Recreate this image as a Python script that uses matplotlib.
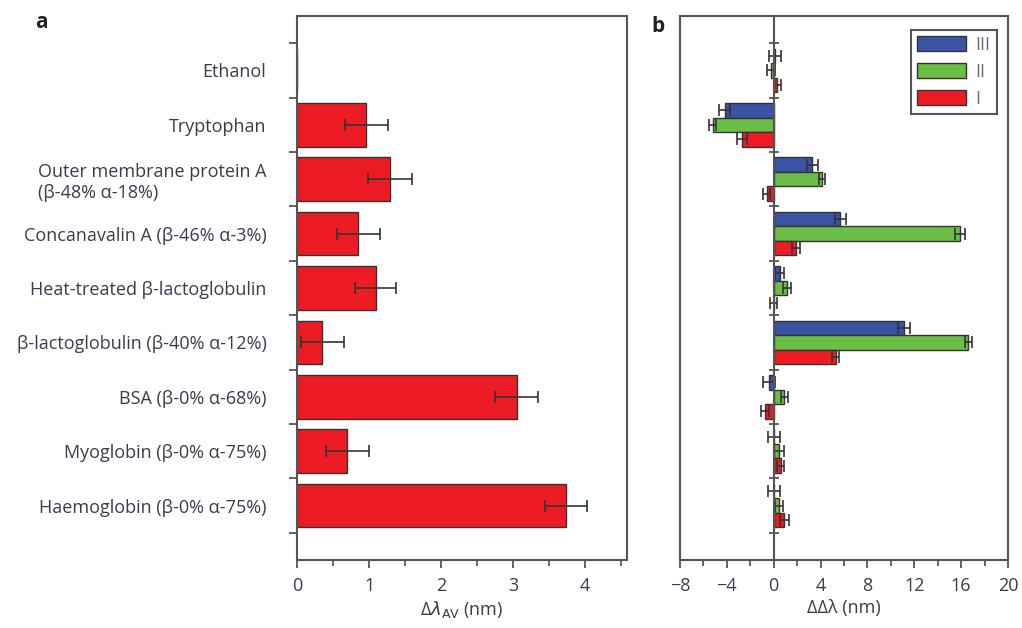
import numpy as np
import matplotlib.pyplot as plt
from matplotlib.ticker import MultipleLocator, FixedLocator

plt.rcParams['font.family'] = ['Open Sans', 'DejaVu Sans']

categories = ['Ethanol', 'Tryptophan', 'Outer membrane protein A\n(β-48% α-18%)',
              'Concanavalin A (β-46% α-3%)', 'Heat-treated β-lactoglobulin',
              'β-lactoglobulin (β-40% α-12%)', 'BSA (β-0% α-68%)',
              'Myoglobin (β-0% α-75%)', 'Haemoglobin (β-0% α-75%)']

# panel a
dl_av = [0.0, 0.96, 1.29, 0.85, 1.09, 0.35, 3.05, 0.70, 3.73]
dl_av_err = [np.nan, 0.3, 0.3, 0.3, 0.29, 0.3, 0.3, 0.3, 0.29]

# panel b
series_names = ['III', 'II', 'I']
ddl_III = [0.1, -4.2, 3.3, 5.7, 0.5, 11.1, -0.4, 0.0, 0.0]
ddl_III_err = [0.5, 0.45, 0.5, 0.5, 0.4, 0.5, 0.5, 0.5, 0.5]
ddl_II = [-0.2, -5.2, 4.1, 15.9, 1.1, 16.6, 0.9, 0.45, 0.45]
ddl_II_err = [0.35, 0.3, 0.25, 0.4, 0.35, 0.3, 0.3, 0.4, 0.3]
ddl_I = [0.3, -2.7, -0.6, 1.9, 0.0, 5.3, -0.75, 0.6, 0.9]
ddl_I_err = [0.3, 0.4, 0.3, 0.35, 0.3, 0.3, 0.35, 0.3, 0.4]

red = '#ed1c24'
green = '#6abd45'
blue = '#3a53a4'
edge = '#333333'
txt = '#3b3b4f'
spine_c = '#555555'
fs = 13

fig = plt.figure(figsize=(10.22, 6.28), dpi=100)
ax1 = fig.add_axes([297/1022, 68/628, 330/1022, 544/628])
ax2 = fig.add_axes([680/1022, 68/628, 328/1022, 544/628])

y = np.arange(len(categories))

# ---- a ----
ax1.barh(y, dl_av, height=0.8, color=red, edgecolor=edge, linewidth=1.0)
ax1.errorbar(dl_av, y, xerr=dl_av_err, fmt='none', ecolor=edge, elinewidth=1.2,
             capsize=4.5, capthick=1.2)
ax1.set_xlim(0, 4.58)
ax1.set_ylim(len(categories), -1)
ax1.xaxis.set_major_locator(MultipleLocator(1))
ax1.xaxis.set_minor_locator(MultipleLocator(0.5))
ax1.set_yticks(y)
ax1.set_yticklabels(categories)
ax1.yaxis.set_minor_locator(FixedLocator(np.arange(-0.5, len(categories), 1)))
ax1.tick_params(axis='y', which='major', length=0, pad=22, labelsize=fs, labelcolor=txt)
ax1.tick_params(axis='y', which='minor', length=6, width=1.3, color=spine_c, direction='out')
ax1.tick_params(axis='x', which='major', length=6, width=1.3, color=spine_c, labelsize=fs,
                labelcolor=txt, pad=6)
ax1.tick_params(axis='x', which='minor', length=4, width=1.3, color=spine_c)
for lab in ax1.get_yticklabels():
    if '\n' in lab.get_text():
        lab.set_multialignment('left')
ax1.set_xlabel(r'Δ$\lambda_{\rm AV}$ (nm)', fontsize=fs, color=txt, labelpad=3)

# ---- b ----
h = 0.8 / 3
vals = [ddl_III, ddl_II, ddl_I]
errs = [ddl_III_err, ddl_II_err, ddl_I_err]
cols = [blue, green, red]
for k in range(3):
    yy = y - h + k * h
    ax2.barh(yy, vals[k], height=h, color=cols[k], edgecolor=edge, linewidth=1.0,
             label=series_names[k])
    ax2.errorbar(vals[k], yy, xerr=errs[k], fmt='none', ecolor=edge, elinewidth=1.2,
                 capsize=4, capthick=1.2)
ax2.set_xlim(-8, 20)
ax2.set_ylim(len(categories), -1)
ax2.xaxis.set_major_locator(MultipleLocator(4))
ax2.xaxis.set_minor_locator(MultipleLocator(2))
ax2.xaxis.set_major_formatter(plt.FuncFormatter(lambda v, p: f'{v:.0f}'.replace('-', '\u2212')))
ax2.tick_params(axis='x', which='major', length=6, width=1.3, color=spine_c, labelsize=fs,
                labelcolor=txt, pad=6)
ax2.tick_params(axis='x', which='minor', length=4, width=1.3, color=spine_c)
# zero line carries the category ticks
ax2.spines['left'].set_position(('data', 0))
ax2.set_yticks(np.arange(-0.5, len(categories), 1))
ax2.set_yticklabels([])
ax2.tick_params(axis='y', which='major', length=7.5, width=1.3, color=spine_c, direction='inout')
ax2.axvline(ax2.get_xlim()[0], color=spine_c, linewidth=1.5, clip_on=False)
ax2.set_xlabel('ΔΔλ (nm)', fontsize=fs, color=txt, labelpad=3)

leg = ax2.legend(loc='upper right', bbox_to_anchor=(0.965, 0.975), fontsize=fs,
                 handlelength=2.7, handleheight=0.9, labelspacing=0.5, handletextpad=0.5,
                 fancybox=False, framealpha=1, borderpad=0.35, borderaxespad=0)
leg.get_frame().set_edgecolor(spine_c)
leg.get_frame().set_linewidth(1.5)
for t in leg.get_texts():
    t.set_color('#6a6a8a')

for ax in (ax1, ax2):
    for s in ax.spines.values():
        s.set_color(spine_c)
        s.set_linewidth(1.5)

fig.text(35/1022, 1 - 22/628, 'a', fontsize=15, fontweight='bold', color='#222222',
         ha='left', va='center')
fig.text(651/1022, 1 - 27/628, 'b', fontsize=15, fontweight='bold', color='#222222',
         ha='left', va='center')

fig.savefig('out.png', dpi=100)
